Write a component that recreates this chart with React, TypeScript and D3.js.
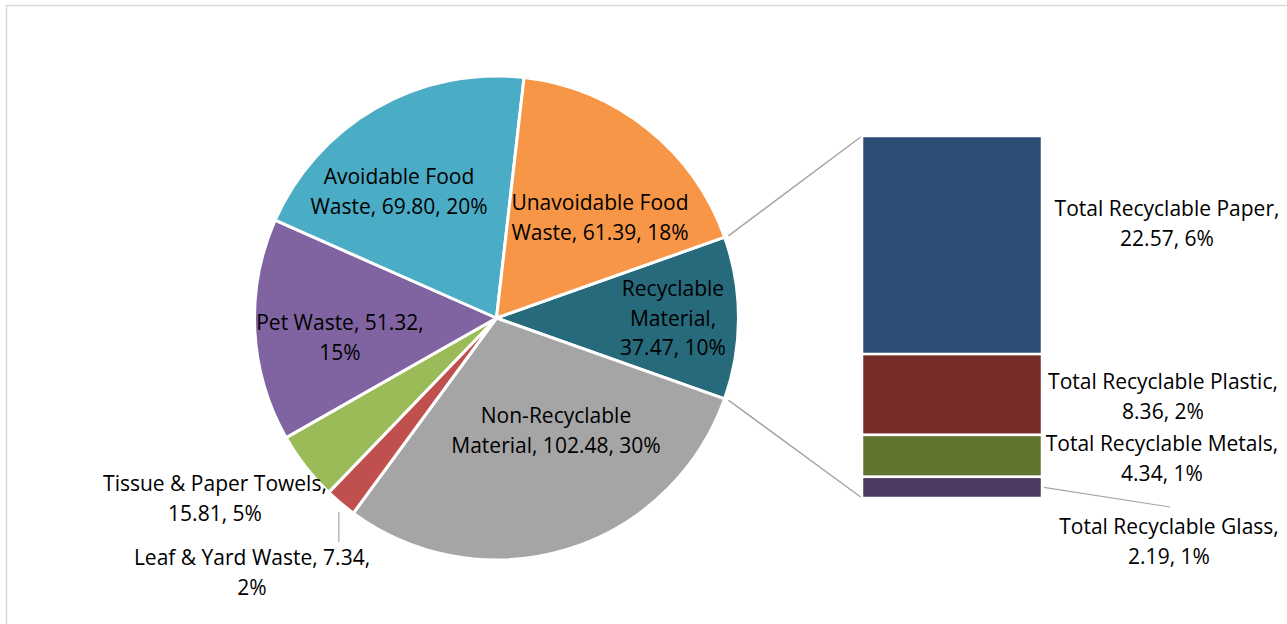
import React from "react";
import * as d3 from "d3";

const pieCategories = [
  "Recyclable Material",
  "Non-Recyclable Material",
  "Leaf & Yard Waste",
  "Tissue & Paper Towels",
  "Pet Waste",
  "Avoidable Food Waste",
  "Unavoidable Food Waste",
];
const pieValues = [37.47, 102.48, 7.34, 15.81, 51.32, 69.8, 61.39];
const pieLabels = [
  ["Recyclable", "Material,", "37.47, 10%"],
  ["Non-Recyclable", "Material, 102.48, 30%"],
  ["Leaf & Yard Waste, 7.34,", "2%"],
  ["Tissue & Paper Towels,", "15.81, 5%"],
  ["Pet Waste, 51.32,", "15%"],
  ["Avoidable Food", "Waste, 69.80, 20%"],
  ["Unavoidable Food", "Waste, 61.39, 18%"],
];
const pieColors = ["#276A7C", "#A5A5A5", "#C0504D", "#9BBB59", "#8064A2", "#4BACC6", "#F79646"];

const barCategories = [
  "Total Recyclable Paper",
  "Total Recyclable Plastic",
  "Total Recyclable Metals",
  "Total Recyclable Glass",
];
const barValues = [22.57, 8.36, 4.34, 2.19];
const barLabels = [
  ["Total Recyclable Paper,", "22.57, 6%"],
  ["Total Recyclable Plastic,", "8.36, 2%"],
  ["Total Recyclable Metals,", "4.34, 1%"],
  ["Total Recyclable Glass,", "2.19, 1%"],
];
const barColors = ["#2C4D75", "#772C2A", "#5F7530", "#4D3B62"];

// layout (label anchor centres)
const pieLabelPos = [
  [673, 289],
  [556, 416],
  [252, 558],
  [215, 484],
  [340, 323],
  [399, 177],
  [600, 203],
];
const barLabelPos = [
  [1167, 209],
  [1163, 382],
  [1162, 444],
  [1169, 527],
];

const W = 1287;
const H = 624;
const cx = 496.5;
const cy = 318;
const R = 242;
const barX = 862;
const barW = 180;
const barTop = 136;
const barBottom = 498;
const lineH = 29.5;
const FONT = "'Open Sans', sans-serif";
const FS = 21;

export default function App() {
  const total = d3.sum(pieValues);
  const half = (pieValues[0] / total) * Math.PI;
  const start = Math.PI / 2 - half;
  const pie = d3
    .pie<number>()
    .sort(null)
    .startAngle(start)
    .endAngle(start + 2 * Math.PI);
  const arcs = pie(pieValues);
  const arc = d3.arc<d3.PieArcDatum<number>>().innerRadius(0).outerRadius(R);

  const barTotal = d3.sum(barValues);
  const y = d3.scaleLinear().domain([0, barTotal]).range([barTop, barBottom]);
  const cum = [0];
  barValues.forEach((v, i) => cum.push(cum[i] + v));

  const pt = (a: number, r: number) => [cx + r * Math.sin(a), cy - r * Math.cos(a)];
  const p1 = pt(arcs[0].startAngle, R + 4);
  const p2 = pt(arcs[0].endAngle, R + 4);

  const leafMid = (arcs[2].startAngle + arcs[2].endAngle) / 2;
  const leafPt = pt(leafMid, R + 6);

  return (
    <div style={{ position: "absolute", left: 0, top: 0 }}>
      <svg width={W} height={H} style={{ display: "block", fontFamily: FONT }}>
        <rect x={0} y={0} width={W} height={H} fill="#fff" />
        <rect x={6.5} y={5.5} width={W + 20} height={H + 20} fill="none" stroke="#D9D9D9" strokeWidth={1.5} />
        <g transform={`translate(${cx},${cy})`}>
          {arcs.map((a, i) => (
            <path key={pieCategories[i]} d={arc(a) || ""} fill={pieColors[i]} stroke="#fff" strokeWidth={3} strokeLinejoin="round" />
          ))}
        </g>
        <line x1={p1[0]} y1={p1[1]} x2={barX} y2={y(0)} stroke="#A6A6A6" strokeWidth={1.5} />
        <line x1={p2[0]} y1={p2[1]} x2={barX} y2={y(barTotal)} stroke="#A6A6A6" strokeWidth={1.5} />
        {barValues.map((v, i) => (
          <rect
            key={barCategories[i]}
            x={barX}
            y={y(cum[i])}
            width={barW}
            height={y(cum[i + 1]) - y(cum[i])}
            fill={barColors[i]}
            stroke="#fff"
            strokeWidth={2.5}
          />
        ))}
        <line
          x1={barX + barW + 2}
          y1={(y(cum[3]) + y(cum[4])) / 2}
          x2={1170}
          y2={507}
          stroke="#A6A6A6"
          strokeWidth={1.2}
        />
        <line x1={leafPt[0] + 2} y1={leafPt[1] + 4} x2={leafPt[0] + 2} y2={542} stroke="#A6A6A6" strokeWidth={1.2} />
        {pieLabels.map((lines, i) =>
          lines.map((t, j) => (
            <text
              key={i + "-" + j}
              x={pieLabelPos[i][0]}
              y={pieLabelPos[i][1] + j * lineH}
              dy="0.35em"
              textAnchor="middle"
              fontSize={FS}
              fill="#000"
            >
              {t}
            </text>
          ))
        )}
        {barLabels.map((lines, i) =>
          lines.map((t, j) => (
            <text
              key={"b" + i + "-" + j}
              x={barLabelPos[i][0]}
              y={barLabelPos[i][1] + j * lineH}
              dy="0.35em"
              textAnchor="middle"
              fontSize={FS}
              fill="#000"
            >
              {t}
            </text>
          ))
        )}
      </svg>
    </div>
  );
}
